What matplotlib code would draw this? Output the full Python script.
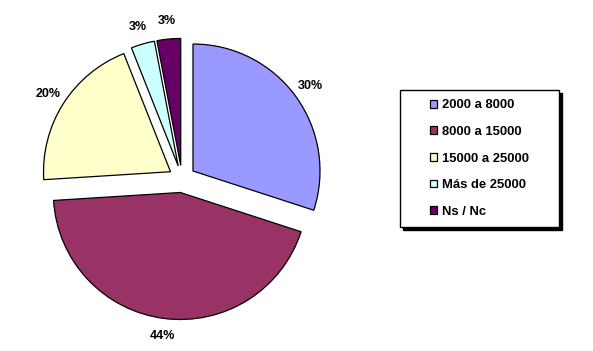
import matplotlib.pyplot as plt
from matplotlib.patches import Rectangle

# datos
categorias = ["2000 a 8000", "8000 a 15000", "15000 a 25000", "Más de 25000", "Ns / Nc"]
valores = [30, 44, 20, 3, 3]
etiquetas = ["30%", "44%", "20%", "3%", "3%"]
colores = ["#9999FF", "#993366", "#FFFFCC", "#CCFFFF", "#660066"]

plt.rcParams['font.family'] = ['Liberation Sans', 'DejaVu Sans']

fig = plt.figure(figsize=(5.93, 3.51), dpi=100)
W, H = 593, 351

# centro de la tarta en pixeles (182, 179), radio 127 px
cx, cy, r = 182, 179, 127
ax = fig.add_axes([0, 0, 2 * cx / W, 1])
wedges, texts = ax.pie(valores, colors=colores, labels=etiquetas,
                       explode=[0.107] * len(valores), startangle=90,
                       counterclock=False, labeldistance=1.14,
                       wedgeprops=dict(edgecolor='black', linewidth=0.9),
                       textprops=dict(fontsize=9, fontweight='bold'))
for t in texts:
    t.set_ha('center')
    t.set_va('center')
ax.set_xlim(-cx / r, cx / r)
ax.set_ylim(-(H - cy) / r, cy / r)
ax.set_aspect('auto')
ax.axis('off')

# caja de la leyenda con sombra
x0, y0, x1, y1 = 400, 90, 559, 227
sombra = Rectangle((x0 + 3, H - y1 - 3), x1 - x0, y1 - y0, transform=None,
                   facecolor='black', edgecolor='black', zorder=1)
caja = Rectangle((x0, H - y1), x1 - x0, y1 - y0, transform=None,
                 facecolor='white', edgecolor='black', linewidth=1, zorder=2)
fig.patches.extend([sombra, caja])

leg = fig.legend(wedges, categorias, loc='center',
                 bbox_to_anchor=((x0 + x1) / 2 / W, 1 - (y0 + y1) / 2 / H),
                 frameon=False, handlelength=0.55, handleheight=0.55,
                 handletextpad=0.35, labelspacing=1.12,
                 prop=dict(size=9.4, weight='bold'))
leg.set_zorder(3)

plt.savefig('out.png', dpi=100)
